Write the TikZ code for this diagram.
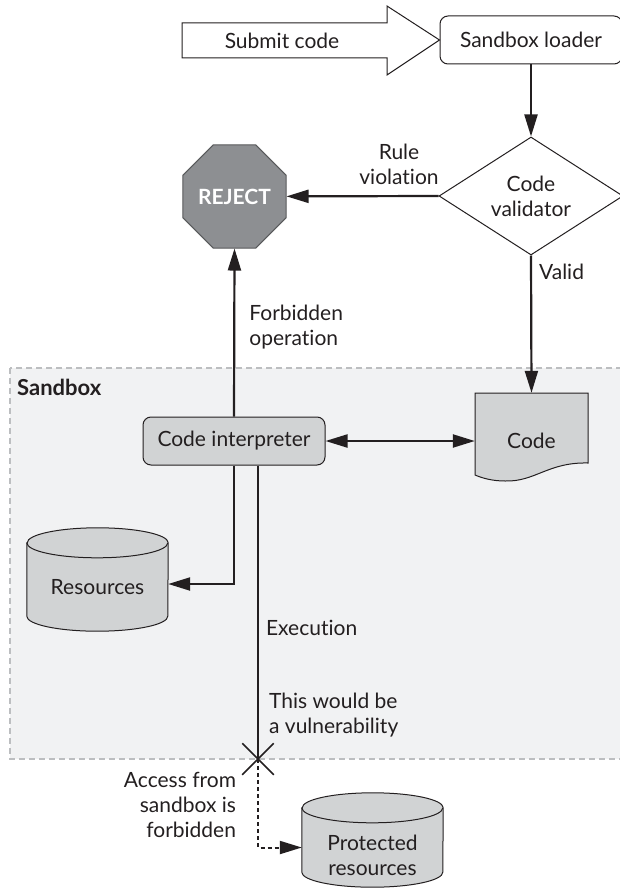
\documentclass[tikz,border=0pt]{standalone}
\usepackage{fontspec}
\setmainfont{Lato}[Ligatures={NoCommon}]
\usetikzlibrary{shapes.geometric,shapes.misc,arrows.meta}

\definecolor{ink}{HTML}{231F20}
\definecolor{boxgray}{HTML}{D1D3D4}
\definecolor{sandgray}{HTML}{F1F2F3}
\definecolor{dashgray}{HTML}{BCBEC0}
\definecolor{stopgray}{HTML}{8D8F92}
\definecolor{stopline}{HTML}{58595B}

% cylinder drawn round a named node (north = centre of the top ellipse)
\newcommand\drawdb[1]{%
    \draw[dbshape] (#1.north west) -- ([yshift=15pt]#1.south west)
        arc[start angle=180, end angle=360, x radius=70.5pt, y radius=15pt]
        -- (#1.north east)
        arc[start angle=0, end angle=180, x radius=70.5pt, y radius=15pt] -- cycle;
    \draw[dbshape, fill=none] (#1.north west)
        arc[start angle=180, end angle=360, x radius=70.5pt, y radius=15pt];}

\begin{document}
\begin{tikzpicture}[x=1pt, y=-1pt,
    font=\fontsize{21pt}{25pt}\selectfont, text=ink,
    proc/.style={draw=ink, line width=1pt, rounded corners=8pt,
        minimum width=182pt, minimum height=48pt, inner sep=0pt},
    flow/.style={draw=ink, line width=2.2pt,
        -{Triangle[length=22pt,width=13pt]}},
    lbl/.style={inner sep=2pt, align=left},
    db/.style={minimum width=141pt, inner sep=0pt, align=center},
    dbshape/.style={draw=ink, fill=boxgray, line width=1pt}]
    \useasboundingbox (0,0) rectangle (620,888);

    % sandbox area
    \draw[dashgray, line width=2pt, dash pattern=on 6pt off 4pt,
        fill=sandgray] (10,368) rectangle (640,759);
    \node[anchor=west, inner sep=0pt, font=\fontsize{22pt}{25pt}\selectfont\bfseries]
        (sandboxlbl) at (17,387) {Sandbox};

    % nodes
    \node[proc] (loader) at (531,40) {Sandbox loader};
    \node[diamond, draw=ink, line width=1pt, fill=white, aspect=1.56,
        inner sep=0pt, minimum width=184pt, minimum height=118pt,
        align=center] (validator) at (531,196) {Code\\validator};
    \node[regular polygon, regular polygon sides=8, draw=stopline,
        line width=1pt, fill=stopgray, text=white, inner sep=0pt,
        minimum size=103pt, font=\fontsize{21pt}{25pt}\selectfont\bfseries]
        (reject) at (234.5,196.5) {REJECT};
    \node[proc, fill=boxgray] (interp) at (234,441) {Code interpreter};
    \draw[draw=ink, line width=1pt, fill=boxgray] (475,475) -- (475,393)
        -- (588,393) -- (588,463) .. controls (548,462) and (535,482) .. (505,481)
        .. controls (492,481) and (482,478) .. (475,475) -- cycle;
    \node[minimum width=113pt, minimum height=96pt, inner sep=0pt]
        (code) at (531.5,441) {Code};
    \node[db, minimum height=88pt] (resources) at (97.5,587) {};
    \drawdb{resources}
    \node[db] at (resources) {Resources};
    \node[db, minimum height=79pt] (protected) at (372.5,847.5) {};
    \drawdb{protected}
    \node[db] at ([yshift=-8pt]protected.center) {Protected\\resources};
    \node[cross out, draw=ink, line width=1.5pt, minimum size=30pt,
        inner sep=0pt] (breach) at (258,759) {};

    % submit arrow
    \draw[draw=ink, line width=1pt, fill=white] (182,23) -- (387,23)
        -- (387,6) -- (loader.west) -- (387,75) -- (387,58) -- (182,58) -- cycle;
    \node (submit) at (282,41) {Submit code};

    % connectors
    \draw[flow] (loader) -- (validator);
    \draw[flow] (validator.west) -- node[lbl, align=center, pos=.26, above=8pt]
        {Rule\\violation} (reject);
    \draw[flow] (validator.south) -- node[lbl, pos=.12, right=5pt] {Valid}
        (code.north);
    \draw[flow] (interp.north) -- node[lbl, pos=.535, right=12pt]
        {Forbidden\\operation} (reject.south);
    \draw[flow, {Triangle[length=22pt,width=13pt]}-{Triangle[length=22pt,width=13pt]}]
        (interp.east) -- (code.west);
    \draw[flow] (interp.south) |- ([yshift=3pt]resources.east);
    \draw[draw=ink, line width=2.2pt] ([xshift=24pt]interp.south)
        -- node[lbl, pos=.555, right=5pt] {Execution}
        node[lbl, pos=.85, right=8pt] {This would be\\a vulnerability}
        (breach.center);
    \draw[flow, dash pattern=on 4pt off 3pt, line width=2pt] (breach.center)
        |- node[lbl, align=right, pos=.26, left=19pt]
        {Access from\\sandbox is\\forbidden} (protected.west);
\end{tikzpicture}
\end{document}
